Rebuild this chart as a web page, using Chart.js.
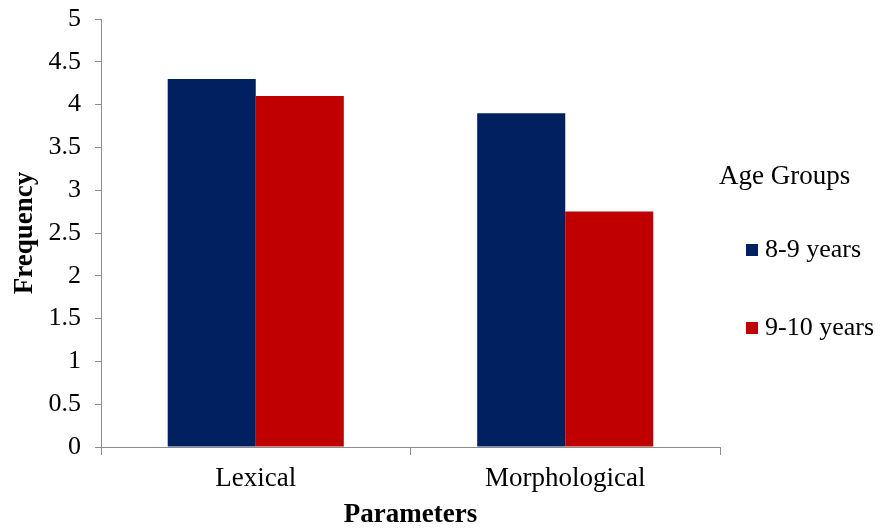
<!DOCTYPE html>
<html>
<head>
<meta charset="utf-8">
<script src="https://cdn.jsdelivr.net/npm/chart.js@4"></script>
<style>
  html, body { margin: 0; padding: 0; background: #ffffff; }
  #wrap { width: 881px; height: 529px; }
</style>
</head>
<body>
<div id="wrap"><canvas id="chart" width="881" height="529"></canvas></div>
<script>
// Parameters measured per age group
const categories = ['Lexical', 'Morphological'];
const seriesNames = ['8-9 years', '9-10 years'];
const age8to9 = [4.3, 3.9];
const age9to10 = [4.1, 2.75];
const yTicks = [0, 0.5, 1, 1.5, 2, 2.5, 3, 3.5, 4, 4.5, 5];
const legendTitle = 'Age Groups';

const serif = "'Liberation Serif', 'Times New Roman', serif";
const axisGrey = '#8c8c8c';

// Legend drawn to the right of the plot: a title line and one swatch per dataset
const sideLegend = {
  id: 'sideLegend',
  afterDraw(chart) {
    const ctx = chart.ctx;
    const x0 = chart.chartArea.right;
    ctx.save();
    ctx.fillStyle = '#000';
    ctx.textBaseline = 'middle';
    ctx.textAlign = 'left';
    ctx.font = `27px ${serif}`;
    ctx.fillText(legendTitle, x0 - 1, 177);
    ctx.font = `26px ${serif}`;
    const rows = [250, 328];
    chart.data.datasets.forEach((ds, i) => {
      const y = rows[i];
      ctx.fillStyle = ds.backgroundColor;
      ctx.fillRect(x0 + 26, y - 6, 12, 12);
      ctx.fillStyle = '#000';
      ctx.fillText(ds.label, x0 + 45, y);
    });
    ctx.restore();
  }
};

new Chart(document.getElementById('chart'), {
  type: 'bar',
  data: {
    labels: categories,
    datasets: [
      { label: seriesNames[0], data: age8to9, backgroundColor: '#002060', borderWidth: 0 },
      { label: seriesNames[1], data: age9to10, backgroundColor: '#C00000', borderWidth: 0 }
    ]
  },
  plugins: [sideLegend],
  options: {
    responsive: false,
    animation: false,
    layout: { padding: { top: 19, right: 161, left: 0, bottom: 0 } },
    datasets: { bar: { categoryPercentage: 0.569, barPercentage: 1.0 } },
    scales: {
      x: {
        afterFit: (scale) => { scale.height = 82; scale.paddingLeft = 0; scale.paddingRight = 0; },
        grid: { display: true, drawOnChartArea: false, drawTicks: true, tickLength: 8, color: axisGrey, offset: true },
        border: { display: true, color: axisGrey, width: 1 },
        ticks: { color: '#000', font: { family: serif, size: 27 }, padding: 8 },
        title: { display: true, text: 'Parameters', color: '#000', font: { family: serif, size: 27, weight: 'bold', lineHeight: 1.0 }, padding: { top: 2, bottom: 0 } }
      },
      y: {
        min: 0, max: 5,
        afterBuildTicks: (axis) => { axis.ticks = yTicks.map(v => ({ value: v })); },
        afterFit: (scale) => { scale.width = 101; scale.paddingTop = 0; scale.paddingBottom = 0; },
        grid: { display: true, drawOnChartArea: false, drawTicks: true, tickLength: 6, color: axisGrey },
        border: { display: true, color: axisGrey, width: 1 },
        ticks: { color: '#000', font: { family: serif, size: 26 }, padding: 14, callback: (v) => String(v) },
        title: { display: true, text: 'Frequency', color: '#000', font: { family: serif, size: 27, weight: 'bold' }, padding: { top: 9, bottom: 0 } }
      }
    },
    plugins: {
      tooltip: { enabled: false },
      legend: { display: false }
    }
  }
});
</script>
</body>
</html>
